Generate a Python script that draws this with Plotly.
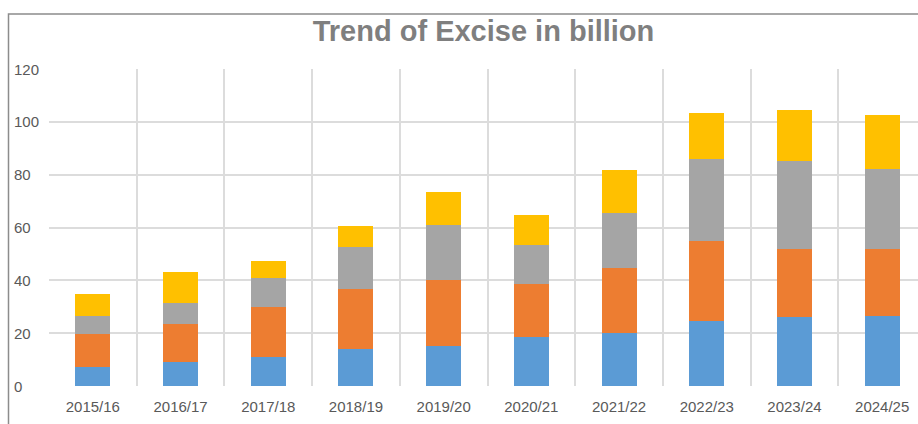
import plotly.graph_objects as go

# Fiscal years on the category axis
years = ["2015/16", "2016/17", "2017/18", "2018/19", "2019/20",
         "2020/21", "2021/22", "2022/23", "2023/24", "2024/25"]

# Stacked excise components, in billion (bottom to top)
series_1 = [7.1, 9.0, 10.9, 14.0, 15.0, 18.6, 20.2, 24.5, 26.1, 26.5]
series_2 = [12.6, 14.4, 18.9, 22.9, 25.2, 20.2, 24.5, 30.4, 25.9, 25.3]
series_3 = [6.9, 8.2, 11.0, 15.7, 20.9, 14.6, 20.9, 31.1, 33.0, 30.4]
series_4 = [8.4, 11.5, 6.6, 8.0, 12.5, 11.5, 16.1, 17.3, 19.5, 20.5]

y_ticks = [0, 20, 40, 60, 80, 100, 120]

W, H = 918, 424
M_L, M_R, M_T, M_B = 49, 0, 69, 38
plot_w = W - M_L - M_R
plot_h = H - M_T - M_B
cat_px = 87.7  # width of one category slot

def px_to_paper_x(px):
    return (px - M_L) / plot_w

def px_to_paper_y(py):
    return (H - M_B - py) / plot_h

fig = go.Figure()
for name, vals, color in [
    ("Series 1", series_1, "#5B9BD5"),
    ("Series 2", series_2, "#ED7D31"),
    ("Series 3", series_3, "#A5A5A5"),
    ("Series 4", series_4, "#FFC000"),
]:
    fig.add_trace(go.Bar(x=years, y=vals, name=name, marker_color=color,
                         marker_line_width=0, width=0.4))

# Y tick labels, left-aligned in the margin
annotations = [
    dict(text=str(v), x=px_to_paper_x(12), xref="paper", y=v, yref="y",
         xanchor="left", yanchor="middle", showarrow=False,
         font=dict(family="Liberation Sans, Arial, sans-serif", size=15, color="#595959"))
    for v in y_ticks
]

fig.update_layout(
    width=W, height=H, autosize=False,
    margin=dict(l=M_L, r=M_R, t=M_T, b=M_B, pad=0),
    barmode="stack",
    showlegend=False,
    paper_bgcolor="white",
    plot_bgcolor="white",
    title=dict(text="<b>Trend of Excise in billion</b>",
               x=0.5, xanchor="center", xref="paper",
               y=1 - 31 / H, yanchor="middle", yref="container",
               font=dict(family="Liberation Sans, Arial, sans-serif", size=29, color="#7F7F7F")),
    xaxis=dict(type="category", tickson="boundaries",
               range=[-0.5, -0.5 + plot_w / cat_px],
               showgrid=True, gridcolor="#DCDCDC", gridwidth=1.5,
               showline=False, zeroline=False, ticks="",
               ticklabelstandoff=10,
               tickfont=dict(family="Liberation Sans, Arial, sans-serif", size=15, color="#595959")),
    yaxis=dict(range=[0, 120], tickvals=y_ticks, showticklabels=False,
               showgrid=True, gridcolor="#DCDCDC", gridwidth=1.5,
               zeroline=False, showline=False, ticks=""),
    annotations=annotations,
    shapes=[dict(type="rect", xref="paper", yref="paper",
                 x0=px_to_paper_x(8.5), x1=px_to_paper_x(W + 20),
                 y0=px_to_paper_y(H + 20), y1=px_to_paper_y(14),
                 line=dict(color="#8C8C8C", width=1.5), fillcolor="rgba(0,0,0,0)",
                 layer="above")],
)

fig.write_html("out.html")
